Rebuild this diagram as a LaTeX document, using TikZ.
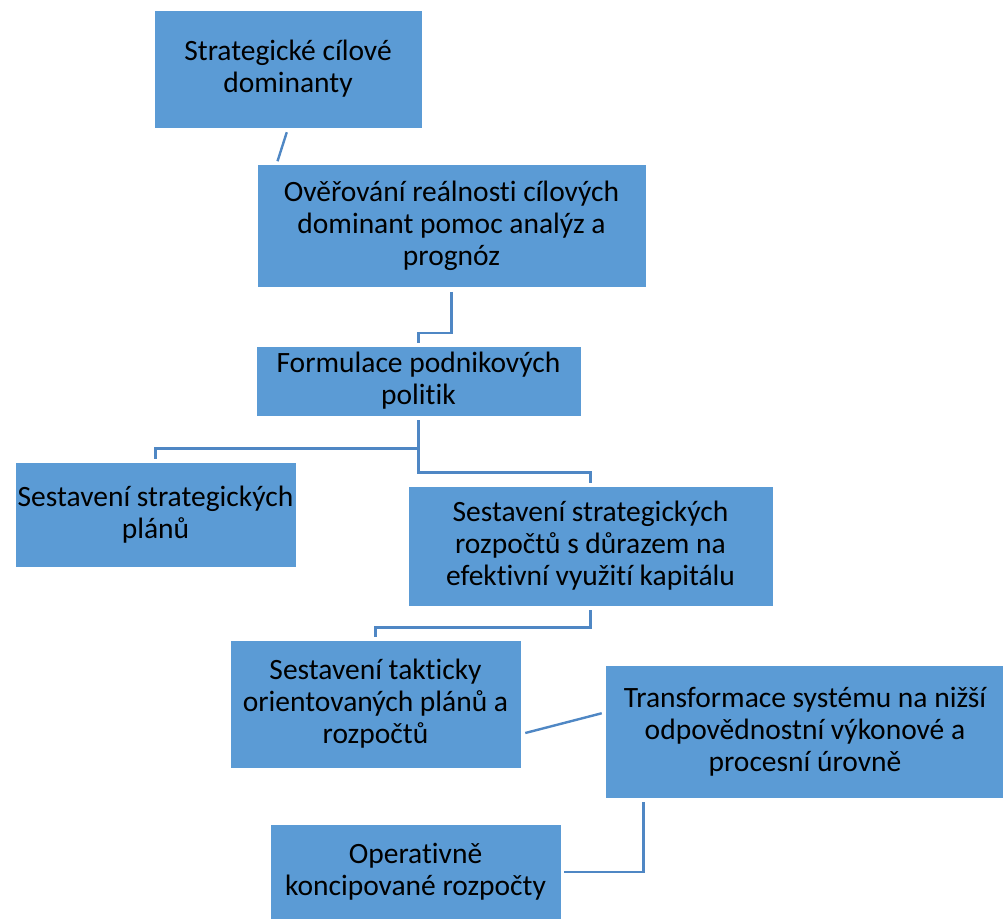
\documentclass[tikz,border=0pt]{standalone}
\usepackage{fontspec}
\setmainfont{Carlito}[Ligatures=NoCommon]
\usepackage{xcolor}
\definecolor{boxblue}{HTML}{5B9BD5}
\definecolor{linkblue}{HTML}{4F87C4}

\begin{document}
\begin{tikzpicture}[x=1pt,y=-1pt,
  box/.style={fill=boxblue,draw=white,line width=0.8pt,align=center,inner sep=0pt,
    font=\fontsize{29.5}{32}\selectfont},
  link/.style={draw=linkblue,line width=2.4pt,shorten <=4pt,shorten >=3pt}]
\clip (0,0) rectangle (1003,918);

\node[box,minimum width=268,minimum height=118] (dominanty) at (288,69) {Strategické cílové\\dominanty};
\node[box,minimum width=389,minimum height=123] (overeni) at (451.5,226) {Ověřování reálnosti cílových\\dominant pomoc analýz a\\prognóz};
\node[box,minimum width=325,minimum height=70] (politiky) at (418.5,381) {Formulace podnikových\\politik};
\node[box,minimum width=281,minimum height=105] (plany) at (155.5,514.5) {Sestavení strategických\\plánů};
\node[box,minimum width=365,minimum height=120] (rozpocty) at (590.5,546) {Sestavení strategických\\rozpočtů s důrazem na\\efektivní využití kapitálu};
\node[box,minimum width=291,minimum height=128] (takticke) at (375.5,704) {Sestavení takticky\\orientovaných plánů a\\rozpočtů};
\node[box,minimum width=400,minimum height=133] (transformace) at (805,731.5) {Transformace systému na nižší\\odpovědnostní výkonové a\\procesní úrovně};
\node[box,minimum width=291,minimum height=96] (operativni) at (415.5,872) {Operativně\\koncipované rozpočty};

\coordinate (d1) at ([xshift=20pt]overeni.north west);
\coordinate (t1) at ([yshift=-30pt]takticke.east);
\coordinate (t2) at ([yshift=19pt]transformace.west);
\coordinate (t3) at ([xshift=39pt]transformace.south west);

\draw[link] (dominanty.south) -- (d1);
\draw[link] (overeni.south) -- ++(0,45) -| (politiky.north);
\draw[link] (politiky.south) -- ++(0,32) -| (plany.north);
\draw[link] (politiky.south) -- ++(0,56) -| (rozpocty.north);
\draw[link] (rozpocty.south) -- ++(0,21) -| (takticke.north);
\draw[link] (t1) -- (t2);
\draw[link] (t3) |- (operativni.east);
\end{tikzpicture}
\end{document}
